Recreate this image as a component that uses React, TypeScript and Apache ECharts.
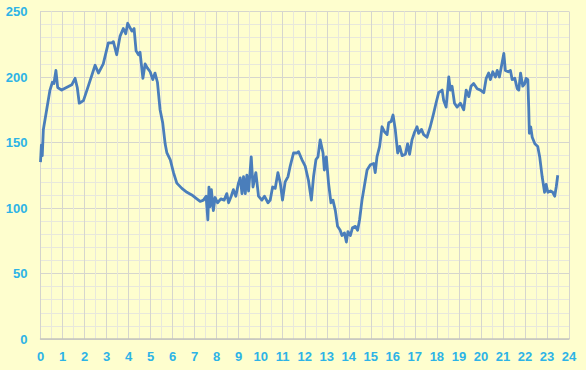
import React, { useEffect, useRef } from "react";
import * as echarts from "echarts";

const hours: number[] = [
  0.0, 0.04, 0.08, 0.13, 0.28, 0.43, 0.54, 0.61, 0.7, 0.78, 0.96, 1.42, 1.57, 1.67, 1.76, 1.95,
  2.17, 2.48, 2.63, 2.85, 3.08, 3.24, 3.31, 3.46, 3.61, 3.76, 3.87, 3.96, 4.15, 4.25, 4.34, 4.45,
  4.52, 4.65, 4.75, 4.85, 4.98, 5.1, 5.2, 5.31, 5.43, 5.55, 5.66, 5.74, 5.89, 6.04, 6.19, 6.42,
  6.65, 6.87, 7.1, 7.25, 7.4, 7.52, 7.6, 7.65, 7.7, 7.76, 7.85, 7.93, 8.04, 8.19, 8.34, 8.46,
  8.54, 8.66, 8.76, 8.87, 8.99, 9.07, 9.15, 9.22, 9.3, 9.37, 9.45, 9.57, 9.65, 9.78, 9.9, 10.05,
  10.17, 10.33, 10.43, 10.54, 10.66, 10.78, 10.89, 10.99, 11.11, 11.24, 11.34, 11.49, 11.65, 11.72, 11.87, 12.02,
  12.17, 12.3, 12.4, 12.51, 12.6, 12.7, 12.83, 12.89, 12.98, 13.08, 13.19, 13.28, 13.39, 13.49, 13.61, 13.69,
  13.8, 13.89, 13.96, 14.07, 14.17, 14.3, 14.4, 14.49, 14.6, 14.7, 14.83, 14.98, 15.13, 15.2, 15.28, 15.4,
  15.51, 15.63, 15.74, 15.81, 15.92, 16.01, 16.11, 16.22, 16.31, 16.42, 16.57, 16.67, 16.76, 16.87, 16.99, 17.1,
  17.17, 17.3, 17.4, 17.55, 17.7, 17.85, 17.96, 18.08, 18.24, 18.31, 18.42, 18.49, 18.54, 18.61, 18.69, 18.8,
  18.92, 19.07, 19.22, 19.33, 19.45, 19.55, 19.67, 19.83, 19.98, 20.13, 20.24, 20.35, 20.43, 20.54, 20.66, 20.74,
  20.84, 20.93, 21.04, 21.11, 21.24, 21.34, 21.42, 21.54, 21.65, 21.72, 21.8, 21.9, 21.99, 22.05, 22.13, 22.17,
  22.2, 22.26, 22.33, 22.45, 22.58, 22.67, 22.78, 22.89, 22.96, 23.04, 23.16, 23.26, 23.35, 23.42, 23.49,
];

const values: number[] = [
  135, 148, 140, 160, 175, 190, 196, 195, 205, 192, 190, 194, 199, 192, 180, 182,
  193, 209, 203, 210, 226, 226, 227, 217, 231, 237, 233, 241, 235, 237, 220, 217,
  219, 199, 210, 207, 204, 198, 203, 196, 175, 165, 149, 142, 137, 127, 119, 115,
  112, 110, 107, 105, 106, 109, 91, 116, 101, 114, 98, 108, 104, 107, 106, 111,
  104, 109, 114, 109, 119, 123, 111, 124, 111, 125, 113, 139, 116, 127, 109, 106,
  109, 104, 106, 116, 115, 127, 119, 106, 120, 124, 132, 142, 142, 143, 137, 132,
  121, 106, 124, 137, 139, 152, 142, 129, 139, 119, 104, 106, 98, 86, 83, 79,
  81, 74, 82, 79, 85, 86, 83, 91, 106, 116, 129, 133, 134, 127, 139, 147,
  162, 158, 156, 165, 166, 171, 160, 142, 147, 140, 141, 149, 141, 152, 158, 162,
  157, 160, 156, 154, 162, 172, 180, 188, 190, 182, 177, 190, 200, 190, 193, 180,
  177, 180, 175, 190, 185, 193, 195, 191, 190, 188, 199, 203, 198, 204, 200, 205,
  200, 208, 218, 205, 204, 205, 198, 199, 191, 190, 203, 193, 195, 199, 198, 177,
  157, 162, 154, 149, 147, 139, 124, 112, 118, 112, 113, 112, 109, 116, 125,
];

const yTicks: number[] = [0, 50, 100, 150, 200, 250];
const xTicks: number[] = Array.from({ length: 25 }, (_, i) => i);

export default function App() {
  const ref = useRef<HTMLDivElement>(null);

  useEffect(() => {
    document.body.style.margin = "0";
    document.body.style.background = "#FEFECE";
    if (!ref.current) return;
    const chart = echarts.init(ref.current, null, { renderer: "svg" });
    const labelStyle = {
      color: "#2DB3E6",
      fontWeight: "bold" as const,
      fontSize: 13,
      fontFamily: "Liberation Sans, Arial, sans-serif",
    };
    chart.setOption({
      animation: false,
      backgroundColor: "#FEFECE",
      grid: { left: 40.5, right: 17, top: 11.5, bottom: 31, containLabel: false },
      xAxis: {
        type: "value",
        min: xTicks[0],
        max: xTicks[xTicks.length - 1],
        interval: 1,
        axisLine: { show: true, lineStyle: { color: "#C4C4BC", width: 1.5 } },
        axisTick: { show: false },
        axisLabel: { ...labelStyle, margin: 11 },
        splitLine: { show: true, lineStyle: { color: "#D6D6CE", width: 1 } },
        minorTick: { show: false, splitNumber: 2 },
        minorSplitLine: { show: true, lineStyle: { color: "#E8E8DC", width: 1 } },
      },
      yAxis: {
        type: "value",
        min: yTicks[0],
        max: yTicks[yTicks.length - 1],
        interval: 50,
        axisLine: { show: true, lineStyle: { color: "#D4D4CC", width: 1 } },
        axisTick: { show: false },
        axisLabel: { ...labelStyle, margin: 13 },
        splitLine: { show: true, lineStyle: { color: "#D6D6CE", width: 1 } },
        minorTick: { show: false, splitNumber: 5 },
        minorSplitLine: { show: true, lineStyle: { color: "#E8E8DC", width: 1 } },
      },
      series: [
        {
          type: "line",
          data: hours.map((h, i) => [h, values[i]]),
          showSymbol: false,
          symbol: "none",
          lineStyle: { color: "#4A7EBB", width: 2.8, join: "round" },
        },
      ],
    });
    return () => chart.dispose();
  }, []);

  return <div ref={ref} style={{ width: 586, height: 370 }} />;
}
